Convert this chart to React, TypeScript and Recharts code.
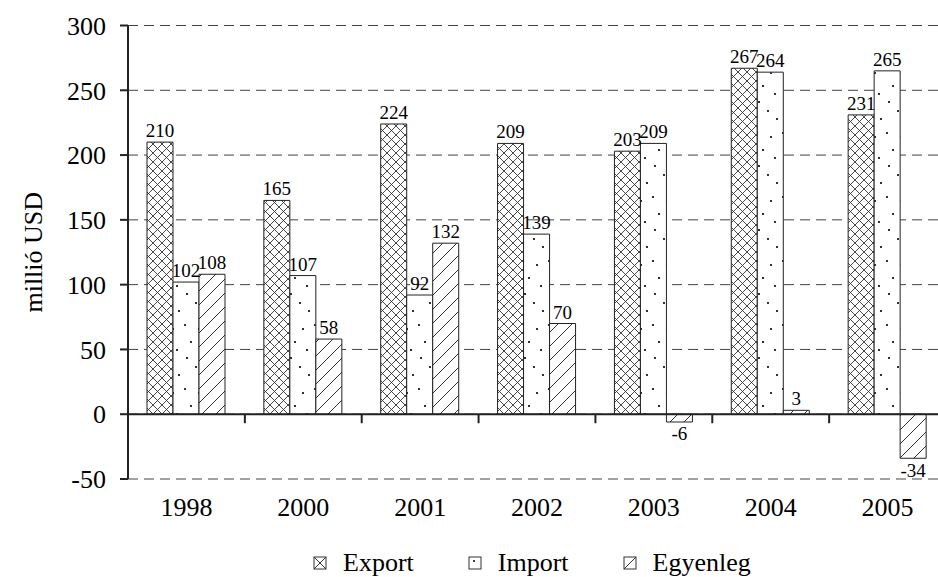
import { BarChart, Bar, XAxis, YAxis, CartesianGrid, ReferenceLine, Legend, LabelList } from "recharts"

const years = ["1998", "2000", "2001", "2002", "2003", "2004", "2005"]
const exportValues = [210, 165, 224, 209, 203, 267, 231]
const importValues = [102, 107, 92, 139, 209, 264, 265]
const balanceValues = [108, 58, 132, 70, -6, 3, -34]
const yTicks = [-50, 0, 50, 100, 150, 200, 250, 300]
const seriesOrder = ["export", "import", "balance"]
const yTitle = "millió USD"

const data = years.map((year, i) => ({
  year,
  export: exportValues[i],
  import: importValues[i],
  balance: balanceValues[i],
}))

const serif = '"Liberation Serif", "Times New Roman", serif'
const ink = "#222"

const tickStyle = { fontSize: 26, fill: "#000", fontFamily: serif }
const labelStyle = { fontSize: 19, fill: "#000", fontFamily: serif }

// zero line with the little category separators hanging below it
function ZeroAxis(props: any) {
  const x1 = Number(props.x1), x2 = Number(props.x2), y = Number(props.y1)
  const step = (x2 - x1) / years.length
  return (
    <g>
      <line x1={x1} y1={y} x2={x2} y2={y} stroke={ink} strokeWidth={2} />
      {years.slice(1).map((_, i) => (
        <line key={i} x1={x1 + step * (i + 1)} x2={x1 + step * (i + 1)} y1={y} y2={y + 9} stroke={ink} strokeWidth={2} />
      ))}
    </g>
  )
}

function YTitle(props: any) {
  const vb = props.viewBox || {}
  const cx = 33
  const cy = vb.y + vb.height / 2
  return (
    <text
      x={cx}
      y={cy}
      transform={`rotate(-90 ${cx} ${cy})`}
      textAnchor="middle"
      dominantBaseline="central"
      style={{ fontFamily: serif, fontSize: 26, fill: "#000" }}
    >
      {yTitle}
    </text>
  )
}

function LegendIcon({ kind }: { kind: string }) {
  return (
    <svg width={14} height={14} style={{ display: "block" }}>
      <rect x={1} y={1} width={12} height={12} fill="#fff" stroke="#333" strokeWidth={1} />
      {kind === "export" && (
        <>
          <line x1={1} y1={1} x2={13} y2={13} stroke="#333" strokeWidth={1} />
          <line x1={13} y1={1} x2={1} y2={13} stroke="#333" strokeWidth={1} />
        </>
      )}
      {kind === "import" && <circle cx={6} cy={5} r={1} fill="#000" />}
      {kind === "balance" && <line x1={1} y1={13} x2={13} y2={1} stroke="#333" strokeWidth={1} />}
    </svg>
  )
}

function LegendContent(props: any) {
  const items = [...(props.payload || [])].sort(
    (a: any, b: any) => seriesOrder.indexOf(a.dataKey) - seriesOrder.indexOf(b.dataKey)
  )
  return (
    <div style={{ display: "flex", alignItems: "center", height: 28, paddingLeft: 313, fontFamily: serif, fontSize: 26, color: "#000" }}>
      {items.map((entry: any) => (
        <div key={entry.value} style={{ display: "flex", alignItems: "center", marginRight: 54 }}>
          <LegendIcon kind={entry.dataKey} />
          <span style={{ marginLeft: 16, lineHeight: "28px" }}>{entry.value}</span>
        </div>
      ))}
    </div>
  )
}

export default function App() {
  return (
    <div style={{ position: "fixed", left: 0, top: 0, width: 938, height: 577, overflow: "hidden", background: "#fff" }}>
      <BarChart
        width={946}
        height={577}
        data={data}
        margin={{ top: 25.5, right: 0, left: 0, bottom: 0 }}
        barGap={0}
        barSize={26}
      >
        <defs>
          <pattern id="hatchCross" width={9} height={9} patternUnits="userSpaceOnUse">
            <rect width={9} height={9} fill="#fff" />
            <path d="M0,0 L9,9 M9,0 L0,9" stroke="#333" strokeWidth={0.9} />
          </pattern>
          <pattern id="dots" width={26} height={64} patternUnits="userSpaceOnUse">
            <rect width={26} height={64} fill="#fff" />
            <circle cx={3} cy={5} r={1.1} fill="#000" />
            <circle cx={17} cy={9} r={1.1} fill="#000" />
            <circle cx={9} cy={22} r={1.1} fill="#000" />
            <circle cx={21} cy={30} r={1.1} fill="#000" />
            <circle cx={5} cy={38} r={1.1} fill="#000" />
            <circle cx={14} cy={47} r={1.1} fill="#000" />
            <circle cx={23} cy={55} r={1.1} fill="#000" />
          </pattern>
          <pattern id="hatchSlash" width={14} height={14} patternUnits="userSpaceOnUse">
            <rect width={14} height={14} fill="#fff" />
            <path d="M0,14 L14,0 M-7,7 L7,-7 M7,21 L21,7" stroke="#333" strokeWidth={1} />
          </pattern>
        </defs>
        <CartesianGrid vertical={false} stroke="#444" strokeDasharray="10 6" />
        <XAxis
          dataKey="year"
          axisLine={false}
          tickLine={false}
          tickSize={0}
          tickMargin={19}
          height={70}
          tick={tickStyle}
          interval={0}
        />
        <YAxis
          width={128}
          domain={[-50, 300]}
          ticks={yTicks}
          interval={0}
          axisLine={{ stroke: ink, strokeWidth: 2 }}
          tickLine={{ stroke: ink, strokeWidth: 2 }}
          tickSize={8}
          tickMargin={14}
          tick={tickStyle}
          label={YTitle}
        />
        <Bar dataKey="export" name="Export" fill="url(#hatchCross)" stroke={ink} strokeWidth={1} isAnimationActive={false}>
          <LabelList dataKey="export" position="top" offset={5} {...labelStyle} />
        </Bar>
        <Bar dataKey="import" name="Import" fill="url(#dots)" stroke={ink} strokeWidth={1} isAnimationActive={false}>
          <LabelList dataKey="import" position="top" offset={5} {...labelStyle} />
        </Bar>
        <Bar dataKey="balance" name="Egyenleg" fill="url(#hatchSlash)" stroke={ink} strokeWidth={1} isAnimationActive={false}>
          <LabelList dataKey="balance" position="top" offset={5} {...labelStyle} />
        </Bar>
        <ReferenceLine y={0} shape={ZeroAxis} />
        <Legend verticalAlign="bottom" content={LegendContent} />
      </BarChart>
    </div>
  )
}
